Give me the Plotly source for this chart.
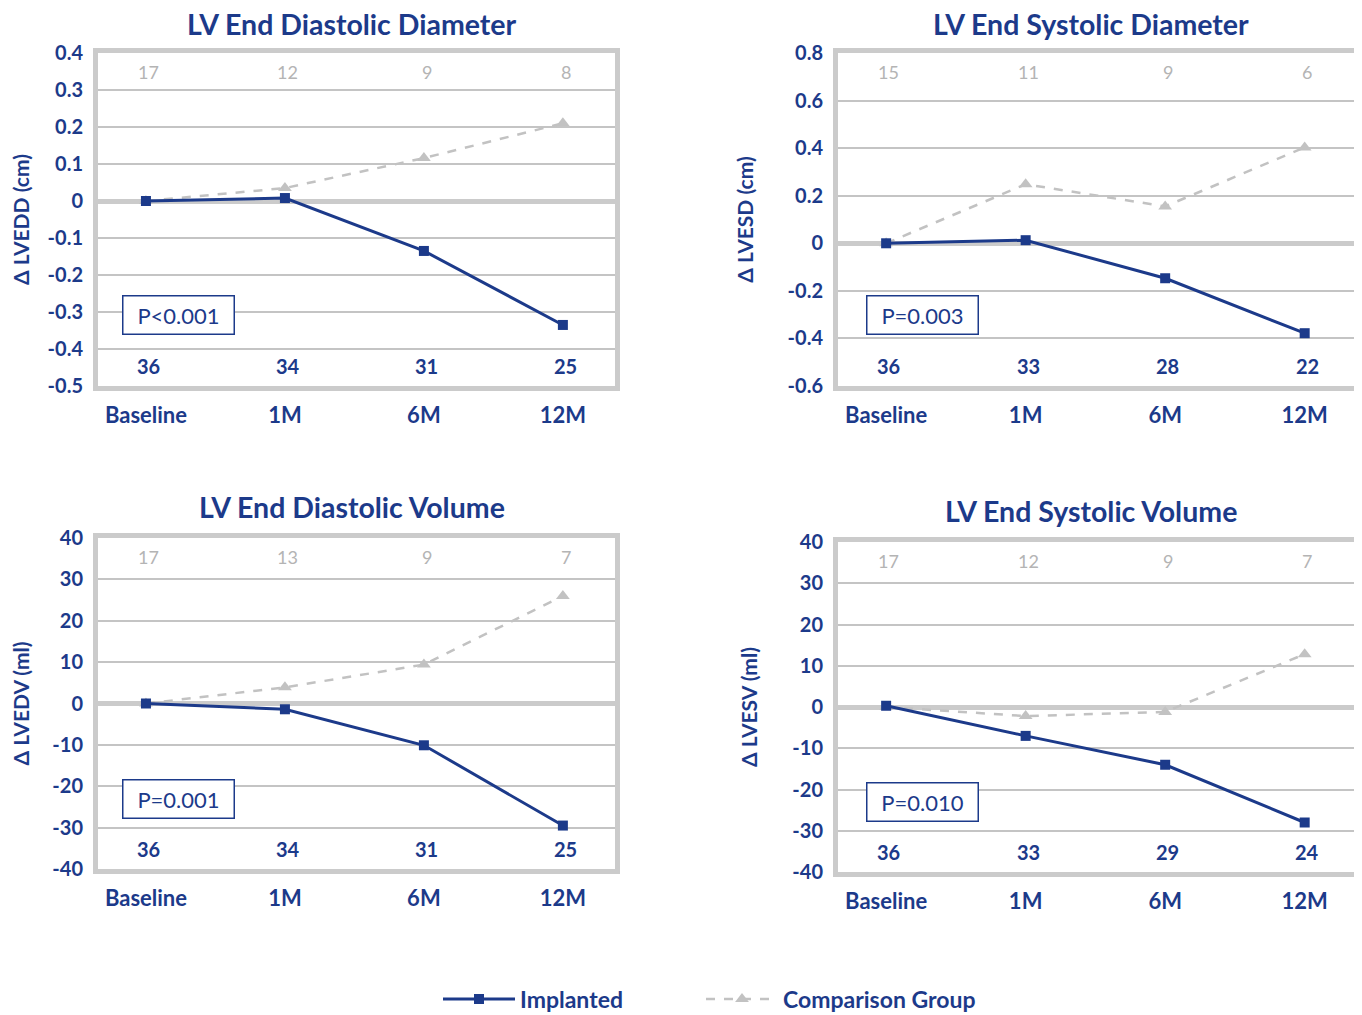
import plotly.graph_objects as go

categories = ["Baseline", "1M", "6M", "12M"]

lvedd_impl = [0.0, 0.008, -0.135, -0.335]
lvedd_comp = [0.0, 0.035, 0.116, 0.21]
lvesd_impl = [0.0, 0.013, -0.147, -0.378]
lvesd_comp = [0.0, 0.248, 0.155, 0.403]
lvedv_impl = [0.0, -1.4, -10.1, -29.5]
lvedv_comp = [0.0, 3.9, 9.4, 26.0]
lvesv_impl = [0.3, -7.0, -14.0, -28.0]
lvesv_comp = [0.0, -2.2, -1.2, 12.8]

lvedd_n_impl = [36, 34, 31, 25]
lvedd_n_comp = [17, 12, 9, 8]
lvesd_n_impl = [36, 33, 28, 22]
lvesd_n_comp = [15, 11, 9, 6]
lvedv_n_impl = [36, 34, 31, 25]
lvedv_n_comp = [17, 13, 9, 7]
lvesv_n_impl = [36, 33, 29, 24]
lvesv_n_comp = [17, 12, 9, 7]

lvedd_yticks = ["-0.5", "-0.4", "-0.3", "-0.2", "-0.1", "0", "0.1", "0.2", "0.3", "0.4"]
lvesd_yticks = ["-0.6", "-0.4", "-0.2", "0", "0.2", "0.4", "0.6", "0.8"]
lvedv_yticks = ["-40", "-30", "-20", "-10", "0", "10", "20", "30", "40"]
lvesv_yticks = ["-40", "-30", "-20", "-10", "0", "10", "20", "30", "40"]

titles = ["LV End Diastolic Diameter", "LV End Systolic Diameter",
          "LV End Diastolic Volume", "LV End Systolic Volume"]
ytitles = ["Δ LVEDD (cm)", "Δ LVESD (cm)", "Δ LVEDV (ml)", "Δ LVESV (ml)"]
pvalues = ["P&lt;0.001", "P=0.003", "P=0.001", "P=0.010"]

BLUE = "#1c3a8a"
GRAY_LINE = "#c2c2c2"
FRAME = "#cbcbcb"
GRID = "#c4c4c4"
FONT = "Lato"

W, H = 1362, 1015
OX, OY = 8, 8  # page body offset
# pixel boxes on screen (left, right, top, bottom)
boxes = [(98, 615, 53, 386), (838, 1357, 53, 386),
         (98, 615, 538, 869), (838, 1357, 542, 872)]
title_dx = [-5, -6.5, -5, -6.5]

impl = [lvedd_impl, lvesd_impl, lvedv_impl, lvesv_impl]
comp = [lvedd_comp, lvesd_comp, lvedv_comp, lvesv_comp]
n_impl = [lvedd_n_impl, lvesd_n_impl, lvedv_n_impl, lvesv_n_impl]
n_comp = [lvedd_n_comp, lvesd_n_comp, lvedv_n_comp, lvesv_n_comp]
yticks = [lvedd_yticks, lvesd_yticks, lvedv_yticks, lvesv_yticks]

fig = go.Figure()
annotations = []
layout = {}
xpos = list(range(len(categories)))

for i in range(4):
    sfx = "" if i == 0 else str(i + 1)
    xa, ya = "x" + sfx, "y" + sfx
    l, r, t, b = boxes[i]
    l, r, t, b = l - OX, r - OX, t - OY, b - OY
    tv = [float(s) for s in yticks[i]]
    fig.add_trace(go.Scatter(
        x=xpos, y=comp[i], xaxis=xa, yaxis=ya, mode="lines+markers",
        name="Comparison Group", showlegend=(i == 0), legend="legend2",
        line=dict(color=GRAY_LINE, width=2.5, dash="dash"),
        marker=dict(symbol="triangle-up", size=12, color=GRAY_LINE)))
    fig.add_trace(go.Scatter(
        x=xpos, y=impl[i], xaxis=xa, yaxis=ya, mode="lines+markers",
        name="Implanted", showlegend=(i == 0), legend="legend",
        line=dict(color=BLUE, width=3),
        marker=dict(symbol="square", size=10, color=BLUE)))

    layout["xaxis" + sfx] = dict(
        domain=[l / W, r / W], anchor=ya, range=[-0.345, 3.375],
        tickmode="array", tickvals=xpos, ticktext=categories,
        showgrid=False, zeroline=False, ticks="",
        showline=True, mirror=True, linecolor=FRAME, linewidth=5,
        tickfont=dict(family=FONT, size=22, color=BLUE, weight="bold"),
        ticklabelstandoff=6, fixedrange=True)
    layout["yaxis" + sfx] = dict(
        domain=[1 - b / H, 1 - t / H], anchor=xa, range=[min(tv), max(tv)],
        tickmode="array", tickvals=tv, ticktext=yticks[i],
        showgrid=True, gridcolor=GRID, gridwidth=1.5,
        zeroline=True, zerolinecolor=FRAME, zerolinewidth=5, ticks="",
        showline=True, mirror=True, linecolor=FRAME, linewidth=5,
        tickfont=dict(family=FONT, size=20, color=BLUE, weight="bold"),
        ticklabelstandoff=6,
        title=dict(text=ytitles[i], standoff=24 if i % 2 == 0 else 30,
                   font=dict(family=FONT, size=21, color=BLUE, weight="bold")),
        fixedrange=True)

    # subplot title
    if i < 2:
        ty, yanc = 1.0 + 3 / H, "top"
    else:
        ty, yanc = 1 - (t - 31) / H, "middle"
    annotations.append(dict(
        text=titles[i], x=((l + r) / 2 + title_dx[i]) / W,
        y=ty, xref="paper", yref="paper",
        xanchor="center", yanchor=yanc, showarrow=False,
        font=dict(family=FONT, size=28.5, color=BLUE, weight="bold")))
    # counts
    for k in range(4):
        annotations.append(dict(
            text=str(n_comp[i][k]), x=xpos[k] + 0.02, y=0.943, xref=xa, yref=ya + " domain",
            showarrow=False, xanchor="center", yanchor="middle",
            font=dict(family=FONT, size=18, color="#b4b4b4")))
        annotations.append(dict(
            text=str(n_impl[i][k]), x=xpos[k] + 0.02, y=0.06, xref=xa, yref=ya + " domain",
            showarrow=False, xanchor="center", yanchor="middle",
            font=dict(family=FONT, size=20, color=BLUE, weight="bold")))
    # p value box
    annotations.append(dict(
        text=pvalues[i], x=0.155 if i % 2 == 0 else 0.162, y=0.212,
        xref=xa + " domain", yref=ya + " domain", showarrow=False,
        xanchor="center", yanchor="middle", width=108, height=35,
        bordercolor=BLUE, borderwidth=1.5, borderpad=1, bgcolor="white",
        font=dict(family=FONT, size=22, color=BLUE)))

legend_common = dict(orientation="h", xanchor="left", yanchor="middle",
                     y=1 - (999 - OY) / H, itemwidth=72,
                     font=dict(family=FONT, size=23, color=BLUE, weight="bold"),
                     bgcolor="rgba(0,0,0,0)")

fig.update_layout(
    width=W, height=H,
    margin=dict(l=0, r=0, t=0, b=0, pad=0, autoexpand=False),
    paper_bgcolor="white", plot_bgcolor="white",
    annotations=annotations,
    showlegend=True,
    legend=dict(x=(443 - OX - 5) / W, **legend_common),
    legend2=dict(x=(706 - OX - 5) / W, **legend_common),
    **layout)

fig.write_html("out.html")
